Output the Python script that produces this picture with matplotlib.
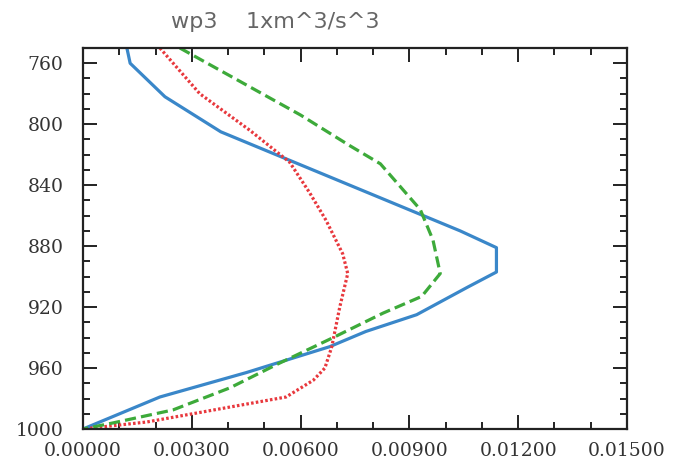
import matplotlib
matplotlib.use("Agg")
import matplotlib.pyplot as plt
from matplotlib.ticker import MultipleLocator, FormatStrFormatter

# profiles (pressure in hPa, value in m^3/s^3)
p_blue = [750, 760, 782, 805, 870, 881, 897, 907, 925, 936, 946, 963, 979, 1000]
x_blue = [0.00121, 0.0013, 0.00226, 0.0038, 0.0104, 0.0114, 0.0114, 0.0106,
          0.0092, 0.0078, 0.0068, 0.0045, 0.00212, 0.0]

p_green = [750, 794, 814, 826, 856, 876, 898, 913, 924, 940, 957, 973, 987.5, 996, 1000]
x_green = [0.00267, 0.0060, 0.00735, 0.0082, 0.0093, 0.00965, 0.00985, 0.00934,
           0.00827, 0.0069, 0.0054, 0.00405, 0.00248, 0.00083, 0.0]

p_red = [750, 780, 804, 825, 845, 863, 885, 898, 920, 946, 960, 968, 979, 985.6, 995.4, 1000]
x_red = [0.00212, 0.00322, 0.0046, 0.0057, 0.00625, 0.0067, 0.00716, 0.0073,
         0.00708, 0.00686, 0.00667, 0.00635, 0.0056, 0.00405, 0.00176, 0.0]

y_ticks = [760, 800, 840, 880, 920, 960, 1000]
x_ticks = [0.0, 0.003, 0.006, 0.009, 0.012, 0.015]

fig = plt.figure(figsize=(6.75, 4.58), dpi=100)
ax = fig.add_axes([83 / 675, 29 / 458, 544 / 675, 381 / 458])

ax.plot(x_blue, p_blue, color="#3a87c9", lw=2.3)
ax.plot(x_red, p_red, color="#e8383d", lw=2.3, ls=(0, (0.8, 0.7)))
ax.plot(x_green, p_green, color="#3daa3a", lw=2.3, ls=(0, (3.5, 1.6)))

ax.set_xlim(0, 0.015)
ax.set_ylim(1000, 750)
ax.set_xticks(x_ticks)
ax.set_yticks(y_ticks)
ax.xaxis.set_minor_locator(MultipleLocator(0.001))
ax.yaxis.set_minor_locator(MultipleLocator(10))
ax.xaxis.set_major_formatter(FormatStrFormatter("%.5f"))

ax.tick_params(which="both", direction="in", top=True, right=True, width=1.4,
               colors="#222222", labelcolor="#333333")
ax.tick_params(which="major", length=10, labelsize=13.5)
ax.tick_params(which="minor", length=5)
ax.tick_params(axis="x", which="major", pad=9)
ax.tick_params(axis="y", which="major", pad=14)
for lab in ax.get_xticklabels() + ax.get_yticklabels():
    lab.set_family("DejaVu Serif")
for s in ax.spines.values():
    s.set_linewidth(1.6)
    s.set_color("#222222")

fig.text(275 / 675, 1 - 22 / 458, "wp3    1xm^3/s^3", ha="center", va="center",
         fontsize=16, color="#666666", family="DejaVu Sans")

fig.savefig("out.png", dpi=100)
